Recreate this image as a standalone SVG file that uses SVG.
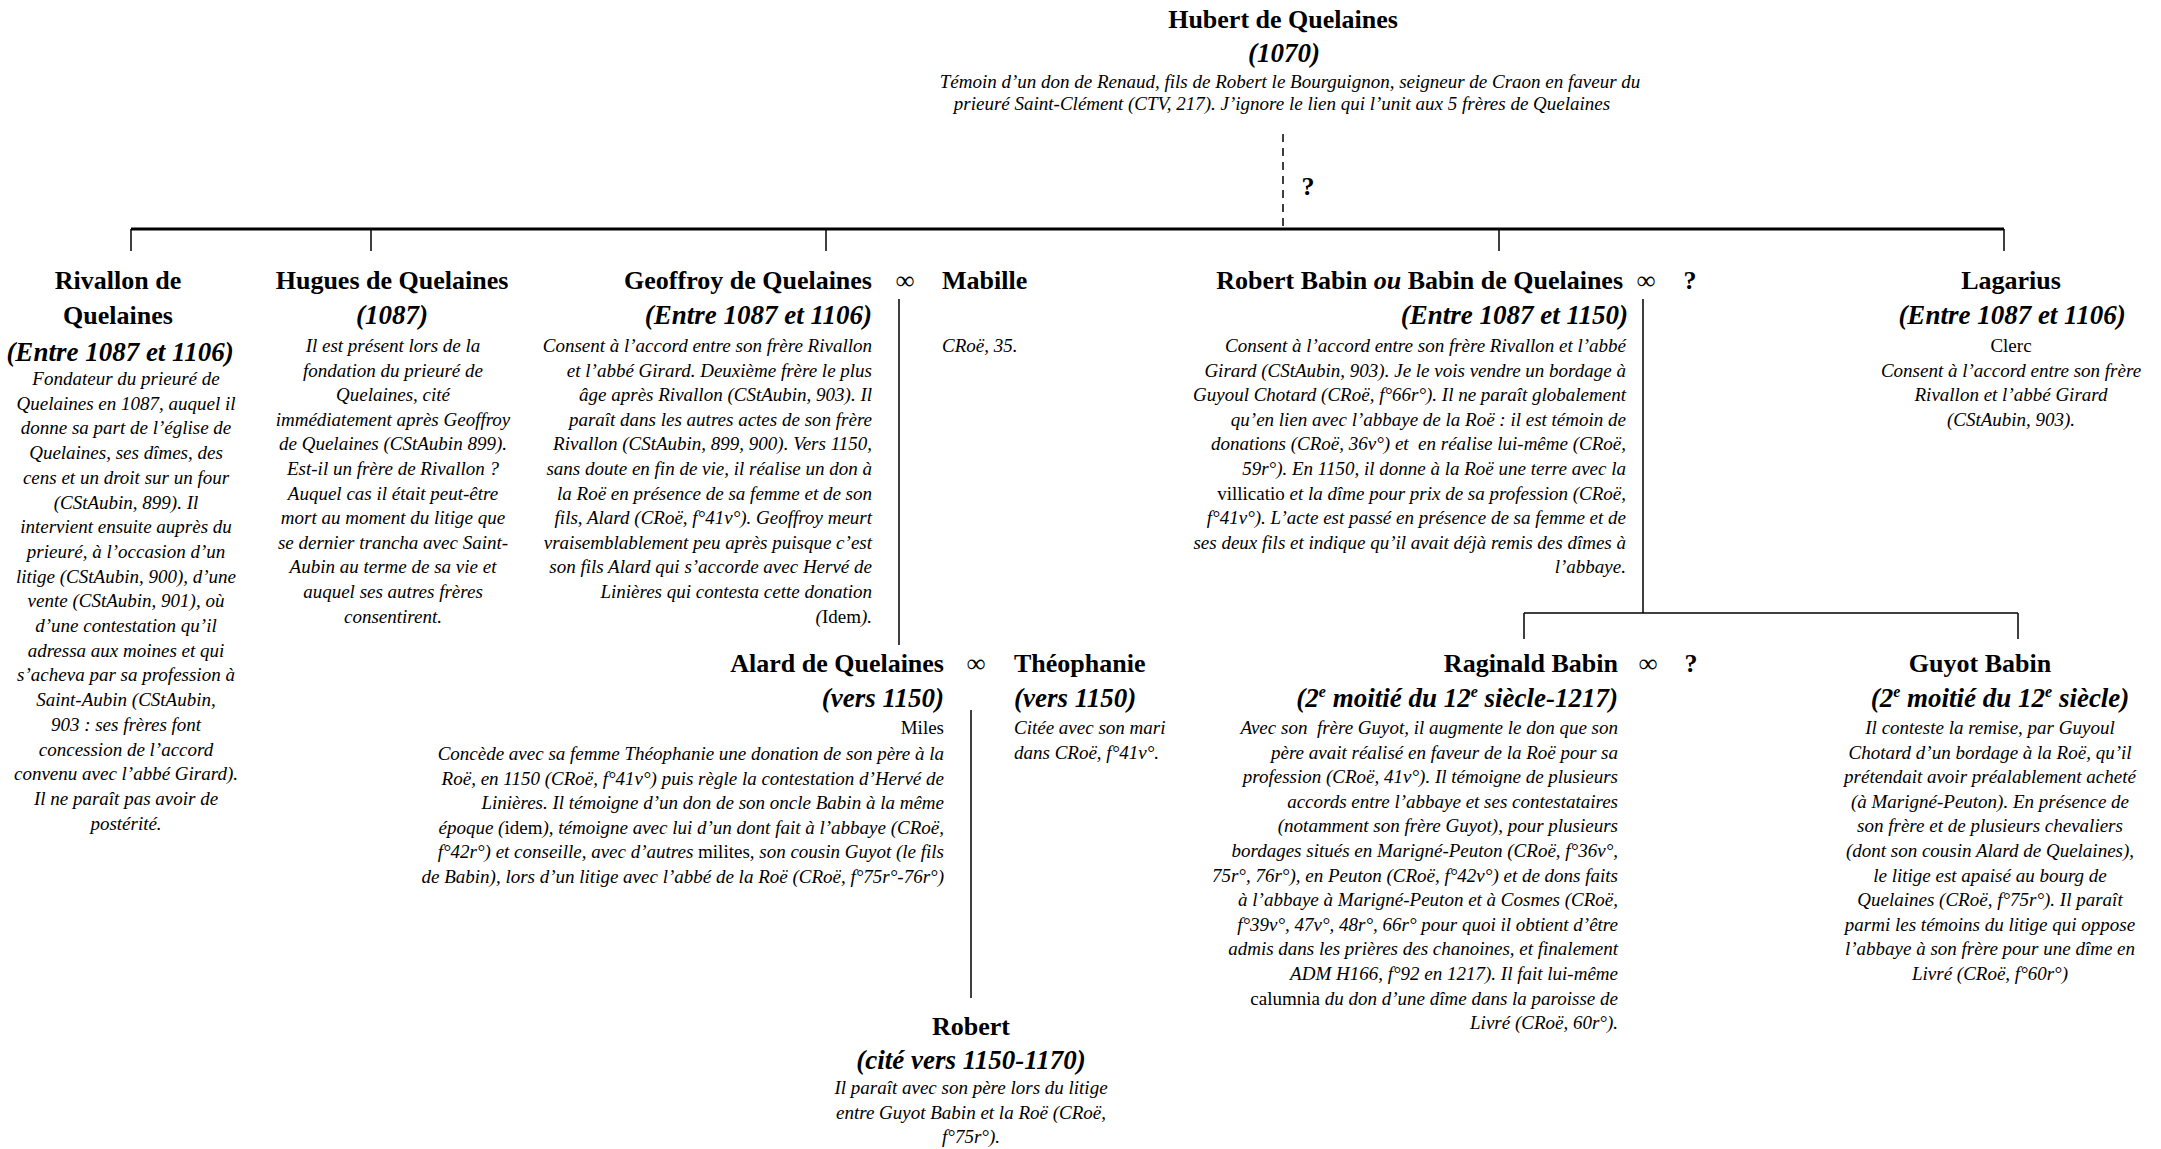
<svg xmlns="http://www.w3.org/2000/svg" width="2161" height="1149" viewBox="0 0 2161 1149">
<style>
text{fill:#000;font-family:"Liberation Serif","Times New Roman",serif}
.n{font-weight:bold;font-size:26px}
.d{font-weight:bold;font-style:italic;font-size:27px}
.t{font-style:italic;font-size:19px}
.u{font-style:normal}
.m{text-anchor:middle}
.e{text-anchor:end}
.s{text-anchor:start}
.ln{stroke:#000;stroke-width:1.5;fill:none}
.bar{stroke:#000;stroke-width:3;fill:none}
.dash{stroke:#000;stroke-width:1.5;stroke-dasharray:8,6;fill:none}
</style>
<g id="connectors">
<line class="dash" x1="1283" y1="134" x2="1283" y2="228"/>
<text class="n m" x="1308" y="195" font-size="24">?</text>
<line class="bar" x1="131" y1="229" x2="2004" y2="229"/>
<line class="ln" x1="131" y1="229" x2="131" y2="251"/>
<line class="ln" x1="371" y1="229" x2="371" y2="251"/>
<line class="ln" x1="826" y1="229" x2="826" y2="251"/>
<line class="ln" x1="1499" y1="229" x2="1499" y2="251"/>
<line class="ln" x1="2004" y1="229" x2="2004" y2="251"/>
<line class="ln" x1="899" y1="299" x2="899" y2="645"/>
<line class="ln" x1="971" y1="710" x2="971" y2="998"/>
<line class="ln" x1="1643" y1="299" x2="1643" y2="613"/>
<line class="ln" x1="1524" y1="613" x2="2018" y2="613"/>
<line class="ln" x1="1524" y1="613" x2="1524" y2="639"/>
<line class="ln" x1="2018" y1="613" x2="2018" y2="639"/>
</g>
<g id="hubert">
<text class="n m" x="1283" y="28">Hubert de Quelaines</text>
<text class="d m" x="1284" y="62">(1070)</text>
<text class="t m" font-size="18"><tspan x="1290" y="88">Témoin d’un don de Renaud, fils de Robert le Bourguignon, seigneur de Craon en faveur du</tspan><tspan x="1282" y="110">prieuré Saint-Clément (CTV, 217). J’ignore le lien qui l’unit aux 5 frères de Quelaines</tspan></text>
</g>
<g id="rivallon">
<text class="n m"><tspan x="118" y="289">Rivallon de</tspan><tspan x="118" y="324">Quelaines</tspan></text>
<text class="d m" x="120" y="361">(Entre 1087 et 1106)</text>
<text class="t m" font-size="20"><tspan x="126" y="385">Fondateur du prieuré de</tspan><tspan x="126" dy="24.7">Quelaines en 1087, auquel il</tspan><tspan x="126" dy="24.7">donne sa part de l’église de</tspan><tspan x="126" dy="24.7">Quelaines, ses dîmes, des</tspan><tspan x="126" dy="24.7">cens et un droit sur un four</tspan><tspan x="126" dy="24.7">(CStAubin, 899). Il</tspan><tspan x="126" dy="24.7">intervient ensuite auprès du</tspan><tspan x="126" dy="24.7">prieuré, à l’occasion d’un</tspan><tspan x="126" dy="24.7">litige (CStAubin, 900), d’une</tspan><tspan x="126" dy="24.7">vente (CStAubin, 901), où</tspan><tspan x="126" dy="24.7">d’une contestation qu’il</tspan><tspan x="126" dy="24.7">adressa aux moines et qui</tspan><tspan x="126" dy="24.7">s’acheva par sa profession à</tspan><tspan x="126" dy="24.7">Saint-Aubin (CStAubin,</tspan><tspan x="126" dy="24.7">903 : ses frères font</tspan><tspan x="126" dy="24.7">concession de l’accord</tspan><tspan x="126" dy="24.7">convenu avec l’abbé Girard).</tspan><tspan x="126" dy="24.7">Il ne paraît pas avoir de</tspan><tspan x="126" dy="24.7">postérité.</tspan></text>
</g>
<g id="hugues">
<text class="n m" x="392" y="289">Hugues de Quelaines</text>
<text class="d m" x="392" y="324">(1087)</text>
<text class="t m"><tspan x="393" y="352">Il est présent lors de la</tspan><tspan x="393" dy="24.6">fondation du prieuré de</tspan><tspan x="393" dy="24.6">Quelaines, cité</tspan><tspan x="393" dy="24.6">immédiatement après Geoffroy</tspan><tspan x="393" dy="24.6">de Quelaines (CStAubin 899).</tspan><tspan x="393" dy="24.6">Est-il un frère de Rivallon ?</tspan><tspan x="393" dy="24.6">Auquel cas il était peut-être</tspan><tspan x="393" dy="24.6">mort au moment du litige que</tspan><tspan x="393" dy="24.6">se dernier trancha avec Saint-</tspan><tspan x="393" dy="24.6">Aubin au terme de sa vie et</tspan><tspan x="393" dy="24.6">auquel ses autres frères</tspan><tspan x="393" dy="24.6">consentirent.</tspan></text>
</g>
<g id="geoffroy">
<text class="n e" x="872" y="289">Geoffroy de Quelaines</text>
<text class="n m" x="905" y="289">∞</text>
<text class="d e" x="872" y="324">(Entre 1087 et 1106)</text>
<text class="t e"><tspan x="872" y="352">Consent à l’accord entre son frère Rivallon</tspan><tspan x="872" dy="24.6">et l’abbé Girard. Deuxième frère le plus</tspan><tspan x="872" dy="24.6">âge après Rivallon (CStAubin, 903). Il</tspan><tspan x="872" dy="24.6">paraît dans les autres actes de son frère</tspan><tspan x="872" dy="24.6">Rivallon (CStAubin, 899, 900). Vers 1150,</tspan><tspan x="872" dy="24.6">sans doute en fin de vie, il réalise un don à</tspan><tspan x="872" dy="24.6">la Roë en présence de sa femme et de son</tspan><tspan x="872" dy="24.6">fils, Alard (CRoë, f°41v°). Geoffroy meurt</tspan><tspan x="872" dy="24.6">vraisemblablement peu après puisque c’est</tspan><tspan x="872" dy="24.6">son fils Alard qui s’accorde avec Hervé de</tspan><tspan x="872" dy="24.6">Linières qui contesta cette donation</tspan><tspan x="872" dy="24.6">(<tspan class="u">Idem</tspan>).</tspan></text>
</g>
<g id="mabille">
<text class="n s" x="942" y="289">Mabille</text>
<text class="t s" x="942" y="352">CRoë, 35.</text>
</g>
<g id="robert-babin">
<text class="n e" x="1623" y="289">Robert Babin <tspan font-style="italic">ou</tspan> Babin de Quelaines</text>
<text class="n m" x="1646" y="289">∞</text>
<text class="n m" x="1690" y="289">?</text>
<text class="d e" x="1628" y="324">(Entre 1087 et 1150)</text>
<text class="t e"><tspan x="1626" y="352">Consent à l’accord entre son frère Rivallon et l’abbé</tspan><tspan x="1626" dy="24.6">Girard (CStAubin, 903). Je le vois vendre un bordage à</tspan><tspan x="1626" dy="24.6">Guyoul Chotard (CRoë, f°66r°). Il ne paraît globalement</tspan><tspan x="1626" dy="24.6">qu’en lien avec l’abbaye de la Roë : il est témoin de</tspan><tspan x="1626" dy="24.6">donations (CRoë, 36v°) et &#160;en réalise lui-même (CRoë,</tspan><tspan x="1626" dy="24.6">59r°). En 1150, il donne à la Roë une terre avec la</tspan><tspan x="1626" dy="24.6"><tspan class="u">villicatio</tspan> et la dîme pour prix de sa profession (CRoë,</tspan><tspan x="1626" dy="24.6">f°41v°). L’acte est passé en présence de sa femme et de</tspan><tspan x="1626" dy="24.6">ses deux fils et indique qu’il avait déjà remis des dîmes à</tspan><tspan x="1626" dy="24.6">l’abbaye.</tspan></text>
</g>
<g id="lagarius">
<text class="n m" x="2011" y="289">Lagarius</text>
<text class="d m" x="2012" y="324">(Entre 1087 et 1106)</text>
<text class="t m"><tspan class="u" x="2011" y="352">Clerc</tspan><tspan x="2011" dy="24.6">Consent à l’accord entre son frère</tspan><tspan x="2011" dy="24.6">Rivallon et l’abbé Girard</tspan><tspan x="2011" dy="24.6">(CStAubin, 903).</tspan></text>
</g>
<g id="alard">
<text class="n e" x="944" y="672">Alard de Quelaines</text>
<text class="n m" x="976" y="672">∞</text>
<text class="d e" x="944" y="707">(vers 1150)</text>
<text class="t e"><tspan class="u" x="944" y="734">Miles</tspan><tspan x="944" y="760">Concède avec sa femme Théophanie une donation de son père à la</tspan><tspan x="944" dy="24.6">Roë, en 1150 (CRoë, f°41v°) puis règle la contestation d’Hervé de</tspan><tspan x="944" dy="24.6">Linières. Il témoigne d’un don de son oncle Babin à la même</tspan><tspan x="944" dy="24.6">époque (<tspan class="u">idem</tspan>), témoigne avec lui d’un dont fait à l’abbaye (CRoë,</tspan><tspan x="944" dy="24.6">f°42r°) et conseille, avec d’autres <tspan class="u">milites</tspan>, son cousin Guyot (le fils</tspan><tspan x="944" dy="24.6">de Babin), lors d’un litige avec l’abbé de la Roë (CRoë, f°75r°-76r°)</tspan></text>
</g>
<g id="theophanie">
<text class="n s" x="1014" y="672">Théophanie</text>
<text class="d s" x="1014" y="707">(vers 1150)</text>
<text class="t s" font-size="16"><tspan x="1014" y="734">Citée avec son mari</tspan><tspan x="1014" y="759">dans CRoë, f°41v°.</tspan></text>
</g>
<g id="raginald">
<text class="n e" x="1618" y="672">Raginald Babin</text>
<text class="n m" x="1648" y="672">∞</text>
<text class="n m" x="1691" y="672">?</text>
<text class="d e" x="1618" y="707">(2<tspan font-size="16" dy="-10">e</tspan><tspan dy="10"> moitié du 12</tspan><tspan font-size="16" dy="-10">e</tspan><tspan dy="10"> siècle-1217)</tspan></text>
<text class="t e"><tspan x="1618" y="734">Avec son &#160;frère Guyot, il augmente le don que son</tspan><tspan x="1618" dy="24.6">père avait réalisé en faveur de la Roë pour sa</tspan><tspan x="1618" dy="24.6">profession (CRoë, 41v°). Il témoigne de plusieurs</tspan><tspan x="1618" dy="24.6">accords entre l’abbaye et ses contestataires</tspan><tspan x="1618" dy="24.6">(notamment son frère Guyot), pour plusieurs</tspan><tspan x="1618" dy="24.6">bordages situés en Marigné-Peuton (CRoë, f°36v°,</tspan><tspan x="1618" dy="24.6">75r°, 76r°), en Peuton (CRoë, f°42v°) et de dons faits</tspan><tspan x="1618" dy="24.6">à l’abbaye à Marigné-Peuton et à Cosmes (CRoë,</tspan><tspan x="1618" dy="24.6">f°39v°, 47v°, 48r°, 66r° pour quoi il obtient d’être</tspan><tspan x="1618" dy="24.6">admis dans les prières des chanoines, et finalement</tspan><tspan x="1618" dy="24.6">ADM H166, f°92 en 1217). Il fait lui-même</tspan><tspan x="1618" dy="24.6"><tspan class="u">calumnia</tspan> du don d’une dîme dans la paroisse de</tspan><tspan x="1618" dy="24.6">Livré (CRoë, 60r°).</tspan></text>
</g>
<g id="guyot">
<text class="n m" x="1980" y="672">Guyot Babin</text>
<text class="d m" x="2000" y="707">(2<tspan font-size="16" dy="-10">e</tspan><tspan dy="10"> moitié du 12</tspan><tspan font-size="16" dy="-10">e</tspan><tspan dy="10"> siècle)</tspan></text>
<text class="t m"><tspan x="1990" y="734">Il conteste la remise, par Guyoul</tspan><tspan x="1990" dy="24.6">Chotard d’un bordage à la Roë, qu’il</tspan><tspan x="1990" dy="24.6">prétendait avoir préalablement acheté</tspan><tspan x="1990" dy="24.6">(à Marigné-Peuton). En présence de</tspan><tspan x="1990" dy="24.6">son frère et de plusieurs chevaliers</tspan><tspan x="1990" dy="24.6">(dont son cousin Alard de Quelaines),</tspan><tspan x="1990" dy="24.6">le litige est apaisé au bourg de</tspan><tspan x="1990" dy="24.6">Quelaines (CRoë, f°75r°). Il paraît</tspan><tspan x="1990" dy="24.6">parmi les témoins du litige qui oppose</tspan><tspan x="1990" dy="24.6">l’abbaye à son frère pour une dîme en</tspan><tspan x="1990" dy="24.6">Livré (CRoë, f°60r°)</tspan></text>
</g>
<g id="robert">
<text class="n m" x="971" y="1035">Robert</text>
<text class="d m" x="971" y="1069">(cité vers 1150-1170)</text>
<text class="t m"><tspan x="971" y="1094">Il paraît avec son père lors du litige</tspan><tspan x="971" dy="24.6">entre Guyot Babin et la Roë (CRoë,</tspan><tspan x="971" dy="24.6">f°75r°).</tspan></text>
</g>
</svg>
